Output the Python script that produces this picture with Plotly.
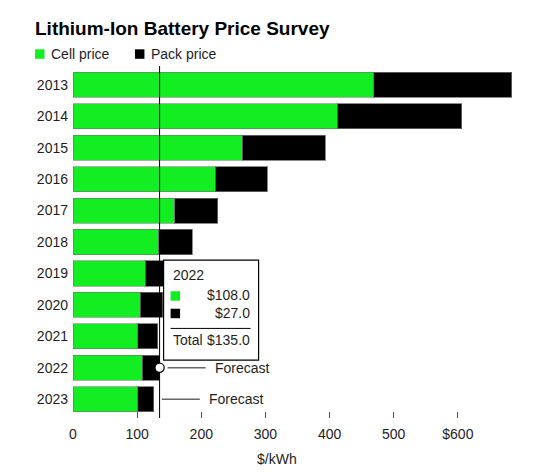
import plotly.graph_objects as go

# ---- data ----
years = ["2013", "2014", "2015", "2016", "2017", "2018", "2019", "2020", "2021", "2022", "2023"]
cell_price = [469, 412, 264, 222, 159, 134, 113, 105, 101, 108, 101]
pack_price = [215, 194, 129, 81, 67, 52, 47, 35, 31, 27, 25]
forecast_years = ["2022", "2023"]
hover_year = "2022"
x_tickvals = [0, 100, 200, 300, 400, 500, 600]
x_ticktext = ["0", "100", "200", "300", "400", "500", "$600"]

GREEN = "#13ee22"
BLACK = "#000000"
TXT = "#1e1e1e"
FONT = "Liberation Sans, Arial, sans-serif"

W, H = 545, 472
L, T, B = 73, 66, 54
XMAX = 700
PW = 449.4
R = W - L - PW
PH = H - T - B


def pxx(px):
    return (px - L) / PW


def pxy(py):
    return (H - B - py) / PH


totals = [c + p for c, p in zip(cell_price, pack_price)]

fig = go.Figure()
fig.add_trace(go.Bar(
    y=years, x=cell_price, orientation="h", name="Cell price",
    marker=dict(color=GREEN, line=dict(color="rgba(110,110,110,0.55)", width=1)),
))
fig.add_trace(go.Bar(
    y=years, x=pack_price, orientation="h", name="Pack price",
    marker=dict(color=BLACK, line=dict(color="rgba(110,110,110,0.8)", width=1)),
))

shapes = []
annotations = []

# hover spike line + tooltip
hi = years.index(hover_year)
h_cell, h_pack, h_tot = cell_price[hi], pack_price[hi], totals[hi]
shapes.append(dict(type="line", xref="x", yref="paper", x0=h_tot, x1=h_tot, y0=0, y1=1,
                   line=dict(color=BLACK, width=1), layer="above"))

# forecast labels
for fy in forecast_years:
    fi = years.index(fy)
    shapes.append(dict(type="line", xref="x", yref="y", xsizemode="pixel", xanchor=totals[fi],
                       x0=8, x1=46, y0=fi, y1=fi, line=dict(color="#666", width=1.5), layer="above"))
    annotations.append(dict(x=totals[fi], y=fi, xref="x", yref="y", xanchor="left", yanchor="middle",
                            xshift=53, text="Forecast", showarrow=False,
                            font=dict(size=14, color=TXT, family=FONT)))

# hover circle
shapes.append(dict(type="circle", xref="x", yref="y", xsizemode="pixel", ysizemode="pixel",
                   xanchor=h_tot, yanchor=hi, x0=-4.6, x1=4.6, y0=-4.6, y1=4.6,
                   fillcolor="white", line=dict(color=BLACK, width=1.2), layer="above"))

# tooltip box
shapes.append(dict(type="rect", xref="x", yref="y", xsizemode="pixel", ysizemode="pixel",
                   xanchor=h_tot, yanchor=hi, x0=4, x1=99, y0=7.6, y1=107.6,
                   fillcolor="white", line=dict(color=BLACK, width=1.2), layer="above"))
shapes.append(dict(type="rect", xref="x", yref="y", xsizemode="pixel", ysizemode="pixel",
                   xanchor=h_tot, yanchor=hi, x0=11, x1=20.5, y0=67, y1=76.5,
                   fillcolor=GREEN, line=dict(width=0), layer="above"))
shapes.append(dict(type="rect", xref="x", yref="y", xsizemode="pixel", ysizemode="pixel",
                   xanchor=h_tot, yanchor=hi, x0=11, x1=20.5, y0=49.5, y1=59,
                   fillcolor=BLACK, line=dict(width=0), layer="above"))
shapes.append(dict(type="line", xref="x", yref="y", xsizemode="pixel", ysizemode="pixel",
                   xanchor=h_tot, yanchor=hi, x0=11, x1=91, y0=39.3, y1=39.3,
                   line=dict(color=BLACK, width=1), layer="above"))


def tip(text, xs, ys, anchor):
    annotations.append(dict(x=h_tot, y=hi, xref="x", yref="y", xanchor=anchor, yanchor="middle",
                            xshift=xs, yshift=ys, text=text, showarrow=False,
                            font=dict(size=14, color=TXT, family=FONT)))


tip(hover_year, 11, 92.6, "left")
tip(f"${h_cell:.1f}", 92, 72.6, "right")
tip(f"${h_pack:.1f}", 92, 54.6, "right")
tip("Total", 11, 27.6, "left")
tip(f"${h_tot:.1f}", 92, 27.6, "right")

# custom legend
shapes.append(dict(type="rect", xref="paper", yref="paper", x0=pxx(35), x1=pxx(44.5), y0=pxy(58.8), y1=pxy(49.3),
                   fillcolor=GREEN, line=dict(width=0)))
shapes.append(dict(type="rect", xref="paper", yref="paper", x0=pxx(135), x1=pxx(144.5), y0=pxy(58.8), y1=pxy(49.3),
                   fillcolor=BLACK, line=dict(width=0)))
annotations.append(dict(x=pxx(49), y=pxy(54), xref="paper", yref="paper", xanchor="left", yanchor="middle",
                        text="Cell price", showarrow=False, font=dict(size=14, color=TXT, family=FONT)))
annotations.append(dict(x=pxx(149), y=pxy(54), xref="paper", yref="paper", xanchor="left", yanchor="middle",
                        text="Pack price", showarrow=False, font=dict(size=14, color=TXT, family=FONT)))

# title
annotations.append(dict(x=pxx(33), y=pxy(29), xref="paper", yref="paper", xanchor="left", yanchor="middle",
                        text="<b>Lithium-Ion Battery Price Survey</b>", showarrow=False,
                        font=dict(size=19, color="#000", family=FONT)))
# x axis title
annotations.append(dict(x=pxx(277), y=pxy(459), xref="paper", yref="paper", xanchor="center", yanchor="middle",
                        text="$/kWh", showarrow=False, font=dict(size=14, color=TXT, family=FONT)))

fig.update_layout(
    width=W, height=H,
    margin=dict(l=L, r=R, t=T, b=B, pad=0, autoexpand=False),
    barmode="stack", bargap=0.2,
    plot_bgcolor="white", paper_bgcolor="white",
    showlegend=False,
    hovermode=False,
    font=dict(family=FONT, size=14, color=TXT),
    shapes=shapes, annotations=annotations,
    xaxis=dict(range=[0, XMAX], tickvals=x_tickvals, ticktext=x_ticktext, showgrid=False,
               zeroline=False, showline=False, ticks="inside", ticklen=6, tickcolor="#555",
               tickfont=dict(size=14, color=TXT), ticklabelstandoff=6, automargin=False),
    yaxis=dict(type="category", categoryorder="array", categoryarray=years, range=[10.6, -0.6],
               showgrid=False, zeroline=False, showline=False, ticks="",
               tickfont=dict(size=14, color=TXT), ticklabelstandoff=4, automargin=False),
)

fig.write_html("out.html", config={"displayModeBar": False},
               post_script="document.body.style.margin='0';")
